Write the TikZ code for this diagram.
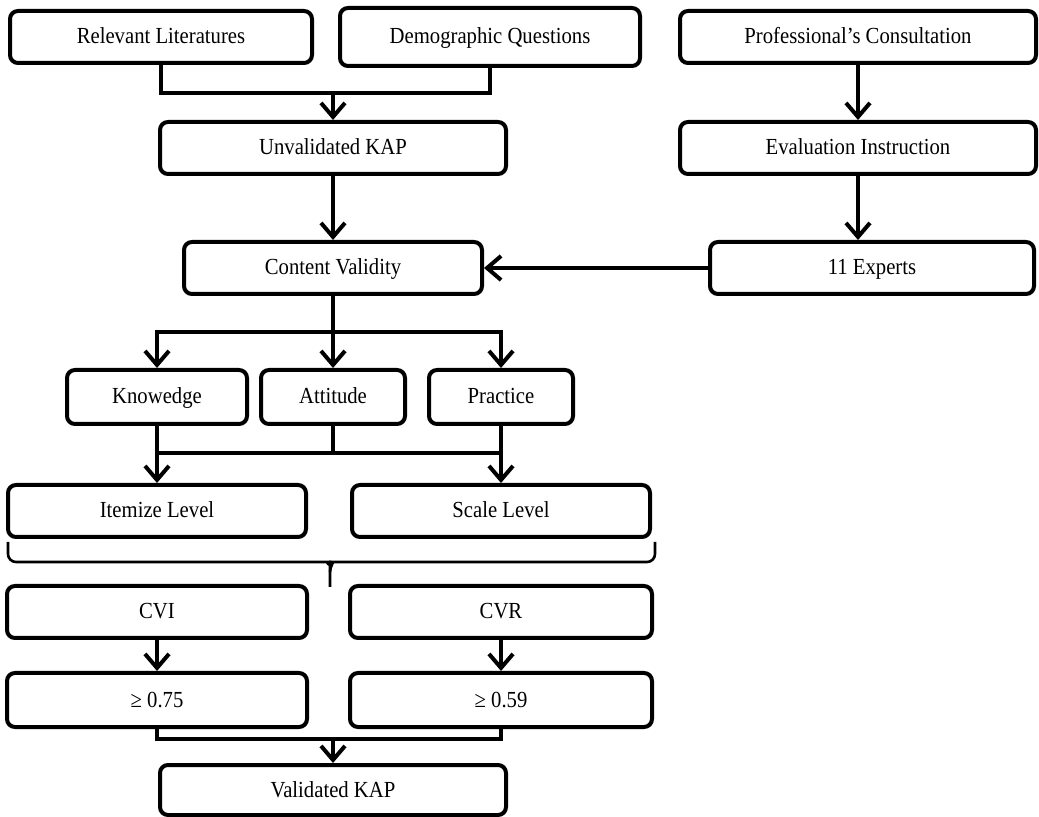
\documentclass[tikz,border=0pt]{standalone}
\usepackage{fontspec}
\setmainfont{Liberation Serif}[FakeStretch=0.9]
\usetikzlibrary{arrows.meta,positioning}

\begin{document}
\begin{tikzpicture}[auto, node distance=2cm,
    block/.style={draw, rectangle, rounded corners=4pt, line width=2pt, minimum height=26pt, inner sep=2pt, text height=8pt, text depth=1pt, font=\fontsize{11.5}{13}\selectfont},
    line/.style={line width=2pt},
    bracestroke/.style={line width=1.3pt, rounded corners=4pt},
    >={Straight Barb[length=7pt,width=12pt]}]
    \useasboundingbox (0,0) rectangle (519.5pt,-408.5pt);

    % Nodes
    \node [block, minimum width=151pt] (rellit) at (80.5pt,-18.5pt) {Relevant Literatures};
    \node [block, minimum width=150pt, minimum height=29pt, right of=rellit, node distance=164.5pt] (demo) {Demographic Questions};
    \node [block, minimum width=178pt, right of=demo, node distance=184pt] (prof) {Professional’s Consultation};
    \node [block, minimum width=178pt, below of=prof, node distance=55.5pt] (evalinst) {Evaluation Instruction};
    \node [block, minimum width=162pt, below of=evalinst, node distance=60pt, xshift=7pt] (experts) {11 Experts};
    \node [block, minimum width=173pt] (unval) at (166.5pt,-74pt) {Unvalidated KAP};
    \node [block, minimum width=149pt, below of=unval, node distance=60pt] (cv) {Content Validity};
    \node [block, minimum width=72pt, minimum height=27pt, below of=cv, node distance=64.5pt] (att) {Attitude};
    \node [block, minimum width=90pt, minimum height=27pt, left of=att, node distance=88pt] (know) {Knowedge};
    \node [block, minimum width=72pt, minimum height=27pt, right of=att, node distance=84pt] (prac) {Practice};
    \node [block, minimum width=149pt, below of=know, node distance=57pt] (itemize) {Itemize Level};
    \node [block, minimum width=149pt, below of=prac, node distance=57pt] (scale) {Scale Level};
    \node [block, minimum width=150pt, below of=itemize, node distance=50.5pt] (cvi) {CVI};
    \node [block, minimum width=151pt, below of=scale, node distance=50.5pt] (cvr) {CVR};
    \node [block, minimum width=150pt, minimum height=27pt, below of=cvi, node distance=44pt] (ge075) {≥ 0.75};
    \node [block, minimum width=151pt, minimum height=27pt, below of=cvr, node distance=44pt] (ge059) {≥ 0.59};
    \node [block, minimum width=173pt, minimum height=25pt, below of=cv, node distance=261pt] (valid) {Validated KAP};

    \coordinate [above of=unval, node distance=27.5pt] (topjoin);
    \coordinate [below of=cv, node distance=32pt] (split);
    \coordinate [below of=att, node distance=28pt] (merge);
    \coordinate [above of=valid, node distance=25.5pt] (lowjoin);

    % Connections
    \draw [line] (rellit) |- (topjoin) -| (demo);
    \draw [line, ->] (topjoin) -- (unval);
    \draw [line, ->] (unval) -- (cv);
    \draw [line, ->] (prof) -- (evalinst);
    \draw [line, ->] (evalinst.south) -- (evalinst.south |- experts.north);
    \draw [line, ->] (experts) -- (cv);
    \draw [line] (cv) -- (split);
    \draw [line, ->] (split) -| (know);
    \draw [line, ->] (split) -- (att);
    \draw [line, ->] (split) -| (prac);
    \draw [line] (att) -- (merge);
    \draw [line] (know |- merge) -- (prac |- merge);
    \draw [line, ->] (know) -- (itemize);
    \draw [line, ->] (prac) -- (scale);
    \draw [line, ->] (cvi) -- (ge075);
    \draw [line, ->] (cvr) -- (ge059);
    \draw [line] (ge075) |- (lowjoin) -| (ge059);
    \draw [line, ->] (lowjoin) -- (valid);

    % Brace
    \draw [bracestroke] (4pt,-271pt) |- (160pt,-281pt) to [out=0, in=90] (165pt,-286pt) -- (165pt,-293.5pt);
    \draw [bracestroke] (327.5pt,-271pt) |- (170pt,-281pt) to [out=180, in=90] (165pt,-286pt);
\end{tikzpicture}
\end{document}
